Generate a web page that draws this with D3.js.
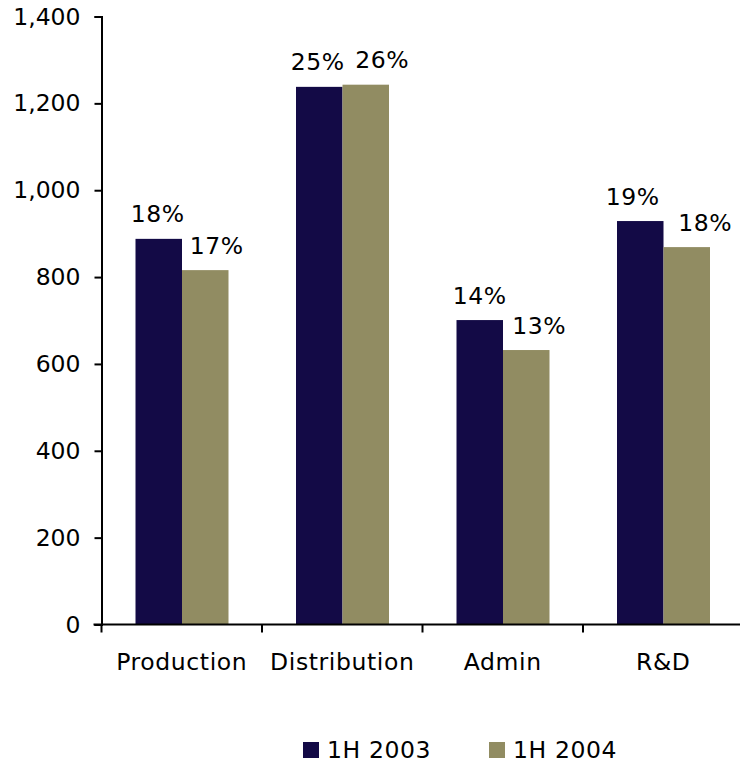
<!DOCTYPE html>
<html>
<head>
<meta charset="utf-8">
<script src="https://cdn.jsdelivr.net/npm/d3@7/dist/d3.min.js"></script>
<style>
  html, body { margin: 0; padding: 0; background: #fff; }
  svg { display: block; font-family: "DejaVu Sans", Verdana, sans-serif; }
  text { letter-spacing: 0.6px; }
  .y-axis text { letter-spacing: 0; }
</style>
</head>
<body>
<svg id="chart" width="740" height="762"></svg>
<script>
// Cost categories and half-year totals
const categories = ["Production", "Distribution", "Admin", "R&D"];
const seriesNames = ["1H 2003", "1H 2004"];
const values2003 = [888, 1238, 701, 929];
const values2004 = [816, 1243, 632, 869];
const share2003 = ["18%", "25%", "14%", "19%"];
const share2004 = ["17%", "26%", "13%", "18%"];
const yTicks = [0, 200, 400, 600, 800, 1000, 1200, 1400];

// Horizontal nudges for the share labels so neighbours do not collide
const labelNudge = [[-1, -1.5, 0, -7.5], [11.5, 16.5, 13, 18.5]];

const colors = ["#130a46", "#918c62"];
const fontSize = 23.5;

const svg = d3.select("#chart");

const x = d3.scaleBand().domain(categories).range([101.5, 743.5]).paddingInner(0).paddingOuter(0);
const y = d3.scaleLinear().domain([0, 1400]).range([624.5, 16.5]);
const inner = d3.scaleBand().domain(seriesNames).range([34, 127]).padding(0);

const series = [
  { name: seriesNames[0], values: values2003, labels: share2003, color: colors[0], nudge: labelNudge[0] },
  { name: seriesNames[1], values: values2004, labels: share2004, color: colors[1], nudge: labelNudge[1] }
];

// Bars
series.forEach(s => {
  const rows = categories.map((c, i) => ({ c, v: s.values[i], l: s.labels[i], n: s.nudge[i] }));
  svg.append("g").selectAll("rect")
    .data(rows)
    .join("rect")
    .attr("x", d => x(d.c) + inner(s.name))
    .attr("y", d => y(d.v))
    .attr("width", inner.bandwidth())
    .attr("height", d => y(0) - y(d.v))
    .attr("fill", s.color);

  // Share labels above each bar
  svg.append("g").selectAll("text")
    .data(rows)
    .join("text")
    .attr("x", d => x(d.c) + inner(s.name) + inner.bandwidth() / 2 + d.n)
    .attr("y", d => y(d.v) - 16.5)
    .attr("text-anchor", "middle")
    .attr("font-size", fontSize)
    .attr("fill", "#000")
    .text(d => d.l);
});

// Y axis
const yAxis = svg.append("g")
  .attr("class", "y-axis")
  .attr("transform", "translate(101.5,0)")
  .call(d3.axisLeft(y).tickValues(yTicks).tickSize(7).tickPadding(14).tickFormat(d3.format(",")));
yAxis.select(".domain").attr("stroke", "#000").attr("stroke-width", 2);
yAxis.selectAll(".tick line").attr("stroke", "#000").attr("stroke-width", 2);
yAxis.selectAll(".tick text").attr("font-size", fontSize).attr("font-family", "DejaVu Sans, Verdana, sans-serif").attr("fill", "#000");

// X axis: ticks at category boundaries
const bounds = categories.map(c => x(c)).concat([x.range()[1]]);
const xAxisG = svg.append("g");
xAxisG.append("line")
  .attr("x1", x.range()[0] - 8).attr("x2", x.range()[1])
  .attr("y1", y(0)).attr("y2", y(0))
  .attr("stroke", "#000").attr("stroke-width", 2);
xAxisG.selectAll("line.tk")
  .data(bounds)
  .join("line")
  .attr("class", "tk")
  .attr("x1", d => d).attr("x2", d => d)
  .attr("y1", y(0)).attr("y2", y(0) + 8)
  .attr("stroke", "#000").attr("stroke-width", 2);
xAxisG.selectAll("text")
  .data(categories)
  .join("text")
  .attr("x", d => x(d) + x.bandwidth() / 2)
  .attr("y", 670)
  .attr("text-anchor", "middle")
  .attr("font-size", fontSize)
  .attr("fill", "#000")
  .text(d => d);

// Legend
const legendX = [303, 489];
const legend = svg.append("g");
series.forEach((s, i) => {
  legend.append("rect")
    .attr("x", legendX[i]).attr("y", 742)
    .attr("width", 16).attr("height", 16)
    .attr("fill", s.color);
  legend.append("text")
    .attr("x", legendX[i] + 24).attr("y", 757.5)
    .attr("font-size", fontSize)
    .attr("fill", "#000")
    .text(s.name);
});
</script>
</body>
</html>
